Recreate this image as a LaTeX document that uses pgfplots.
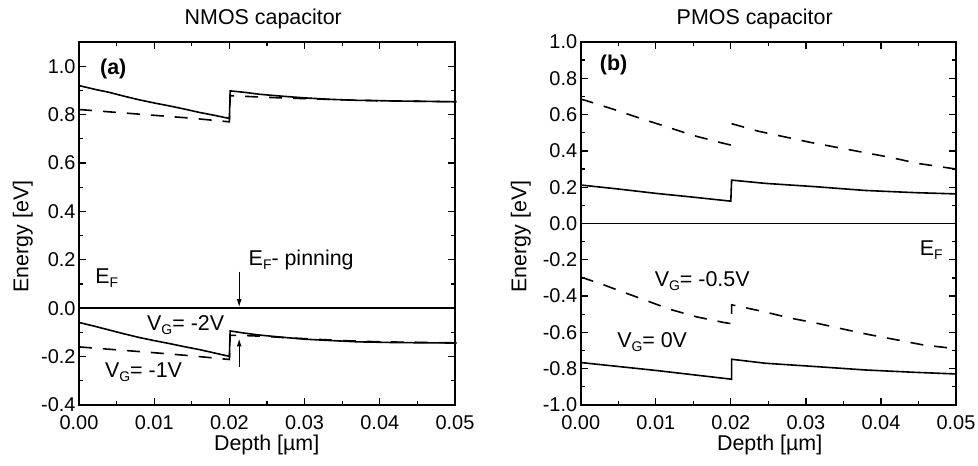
\documentclass[border=0pt]{standalone}
\usepackage{fontspec}
\setmainfont{Liberation Sans}
\usepackage{pgfplots}
\pgfplotsset{compat=1.18}
\usetikzlibrary{arrows.meta}

\newcommand\lbl{\fontsize{21.5}{25}\selectfont}
\newcommand\tkl{\fontsize{20}{24}\selectfont}
\newcommand\sub[1]{\raisebox{-4bp}{\fontsize{14}{14}\selectfont #1}}

\pgfplotsset{
  band/.style={
    scale only axis, width=376bp, height=363bp,
    xmin=0, xmax=0.05, xtick={0,0.01,0.02,0.03,0.04,0.05},
    minor x tick num=1, minor y tick num=1,
    tick align=inside, major tick length=7bp, minor tick length=4bp,
    axis line style={line width=2bp, black},
    tick style={line width=1.3bp, black},
    /pgf/number format/assume math mode=true,
    tick label style={font=\tkl},
    xticklabel style={/pgf/number format/fixed, /pgf/number format/precision=2,
      /pgf/number format/zerofill, yshift=-7bp},
    yticklabel style={/pgf/number format/fixed, /pgf/number format/precision=1,
      /pgf/number format/zerofill},
    scaled ticks=false, clip=false,
  },
  sol/.style={black, line width=1.6bp},
  das/.style={black, line width=1.6bp, dash pattern=on 13bp off 11bp},
}

\begin{document}
\begin{tikzpicture}[x=1bp, y=1bp]

% (a) NMOS
\begin{axis}[band, at={(79bp,61bp)}, anchor=south west,
    ymin=-0.4, ymax=1.1, ytick={-0.4,-0.2,0,0.2,0.4,0.6,0.8,1.0}]
\addplot[sol] coordinates {(0,0)(0.05,0)};
% conduction band, V_G = -2V
\addplot[sol] coordinates {
  (0,0.920)(0.002,0.905)(0.004,0.892)(0.006,0.876)(0.008,0.861)(0.010,0.848)
  (0.012,0.836)(0.014,0.823)(0.016,0.809)(0.018,0.797)(0.020,0.784)
  (0.0201,0.898)(0.022,0.892)(0.024,0.884)(0.027,0.876)(0.030,0.869)
  (0.0334,0.863)(0.037,0.859)(0.0427,0.856)(0.0502,0.853)};
% conduction band, V_G = -1V
\addplot[das] coordinates {
  (0,0.821)(0.005,0.809)(0.010,0.797)(0.015,0.785)(0.020,0.770)
  (0.0201,0.878)(0.023,0.874)(0.026,0.870)(0.030,0.866)(0.035,0.861)
  (0.040,0.857)(0.050,0.853)};
% valence band, V_G = -2V
\addplot[sol] coordinates {
  (0,-0.059)(0.002,-0.074)(0.004,-0.090)(0.006,-0.106)(0.008,-0.121)
  (0.010,-0.134)(0.012,-0.146)(0.014,-0.159)(0.016,-0.171)(0.018,-0.185)
  (0.020,-0.199)(0.0201,-0.094)(0.022,-0.103)(0.024,-0.111)(0.027,-0.120)
  (0.030,-0.128)(0.033,-0.133)(0.037,-0.139)(0.042,-0.142)(0.0502,-0.144)};
% valence band, V_G = -1V
\addplot[das] coordinates {
  (0,-0.160)(0.005,-0.172)(0.010,-0.184)(0.015,-0.197)(0.020,-0.212)
  (0.0201,-0.112)(0.023,-0.114)(0.026,-0.119)(0.030,-0.126)(0.035,-0.134)
  (0.040,-0.139)(0.050,-0.143)};
\addplot[black, line width=1.3bp, -{Latex[length=8bp,width=5bp]}]
  coordinates {(0.0213,0.151)(0.0213,0.004)};
\addplot[black, line width=1.3bp, -{Latex[length=8bp,width=5bp]}]
  coordinates {(0.0213,-0.243)(0.0213,-0.125)};
\node[anchor=base west, font=\lbl] at (axis cs:0.00235,0.965) {\textbf{(a)}};
\node[anchor=base west, font=\lbl] at (axis cs:0.0221,0.178) {E\sub{F}- pinning};
\node[anchor=base west, font=\lbl] at (axis cs:0.0017,0.100) {E\sub{F}};
\node[anchor=base west, font=\lbl] at (axis cs:0.0086,-0.091) {V\sub{G}= -2V};
\node[anchor=base west, font=\lbl] at (axis cs:0.0030,-0.285) {V\sub{G}= -1V};
\end{axis}

% (b) PMOS
\begin{axis}[band, at={(580.7bp,61bp)}, anchor=south west, width=375.3bp,
    ymin=-1, ymax=1, ytick={-1,-0.8,-0.6,-0.4,-0.2,0,0.2,0.4,0.6,0.8,1}]
\addplot[sol] coordinates {(0,0)(0.0495,0)};
% conduction band, V_G = -0.5V
\addplot[das] coordinates {
  (0,0.685)(0.0008,0.676)(0.0043,0.630)(0.0079,0.580)(0.0115,0.532)
  (0.0150,0.485)(0.0186,0.446)(0.0201,0.431)};
\addplot[das] coordinates {
  (0.0201,0.550)(0.0236,0.509)(0.0272,0.477)(0.0307,0.446)(0.0343,0.418)
  (0.0379,0.390)(0.0414,0.363)(0.0449,0.331)(0.050,0.300)};
% conduction band, V_G = 0V
\addplot[sol] coordinates {
  (0,0.212)(0.005,0.190)(0.010,0.166)(0.015,0.145)(0.020,0.123)
  (0.0201,0.239)(0.0246,0.221)(0.0312,0.203)(0.0379,0.182)(0.0445,0.170)
  (0.050,0.163)};
% valence band, V_G = -0.5V
\addplot[das] coordinates {
  (0,-0.295)(0.0030,-0.337)(0.0048,-0.365)(0.0083,-0.418)(0.0119,-0.473)
  (0.0155,-0.515)(0.0190,-0.545)(0.0201,-0.552)
  (0.0201,-0.448)(0.0243,-0.485)(0.0279,-0.521)(0.0314,-0.549)(0.0350,-0.582)
  (0.0385,-0.613)(0.0421,-0.641)(0.0456,-0.669)(0.050,-0.690)};
% valence band, V_G = 0V
\addplot[sol] coordinates {
  (0,-0.766)(0.0103,-0.811)(0.0201,-0.858)(0.0201,-0.748)(0.0246,-0.770)
  (0.0312,-0.788)(0.0379,-0.807)(0.0445,-0.820)(0.050,-0.829)};
\node[anchor=base west, font=\lbl] at (axis cs:0.0021,0.841) {\textbf{(b)}};
\node[anchor=base west, font=\lbl] at (axis cs:0.0447,-0.177) {E\sub{F}};
\node[anchor=base west, font=\lbl] at (axis cs:0.0094,-0.346) {V\sub{G}= -0.5V};
\node[anchor=base west, font=\lbl] at (axis cs:0.0044,-0.681) {V\sub{G}= 0V};
\end{axis}

\node[anchor=base, font=\lbl] at (263.3,441) {NMOS capacitor};
\node[anchor=base, font=\lbl] at (754.7,441) {PMOS capacitor};
\node[anchor=base, font=\lbl] at (266.7,15) {Depth [µm]};
\node[anchor=base, font=\lbl] at (769.7,15) {Depth [µm]};
\node[anchor=base, rotate=90, font=\lbl] at (28.3,229.3) {Energy [eV]};
\node[anchor=base, rotate=90, font=\lbl] at (526.3,229.3) {Energy [eV]};

\pgfresetboundingbox
\useasboundingbox (0,0) rectangle (978,466);
\end{tikzpicture}
\end{document}
